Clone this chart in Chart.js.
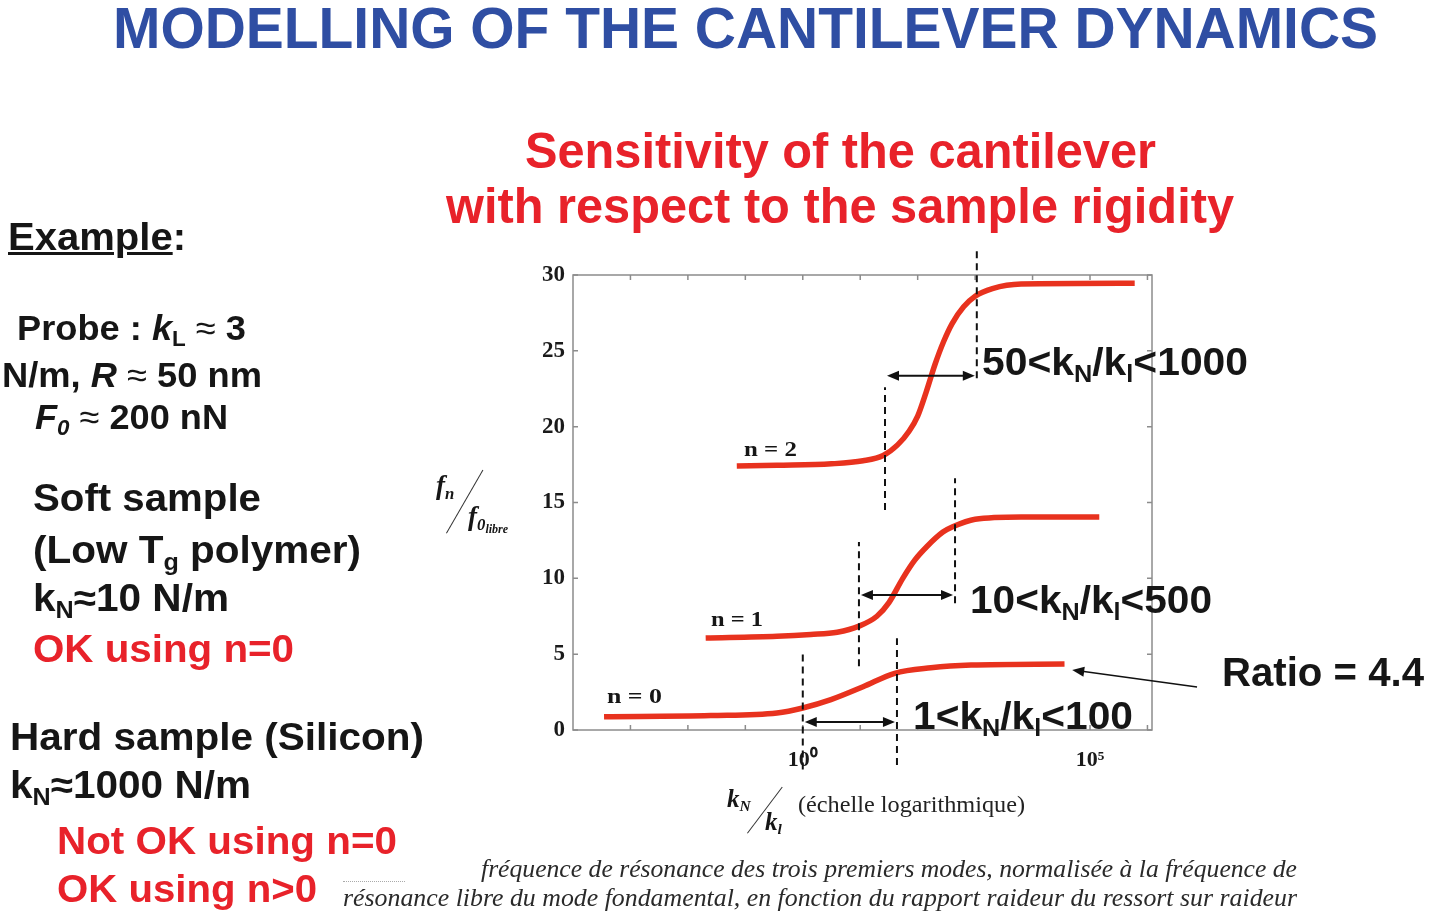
<!DOCTYPE html>
<html>
<head>
<meta charset="utf-8">
<title>Modelling of the cantilever dynamics</title>
<script src="https://cdn.jsdelivr.net/npm/chart.js@4.4.0/dist/chart.umd.min.js"></script>
<style>
  html, body { margin: 0; padding: 0; background: #fff; }
  #page { position: relative; width: 1432px; height: 921px; overflow: hidden; }
  #chartBox { position: absolute; left: 0; top: 0; width: 1432px; height: 921px; }
  .t { position: absolute; white-space: nowrap; line-height: 1; transform-origin: 0 50%;
       font-family: "Liberation Sans", Arial, sans-serif; font-weight: bold; color: #161616; }
  .narrow { font-family: "Liberation Sans Narrow", "Liberation Sans", Arial, sans-serif; }
  .red { color: #e8222a; }
  .blue { color: #2f4ea3; }
  .ser { font-family: "Liberation Serif", "Times New Roman", serif; }
  .t sub { font-size: 0.62em; vertical-align: -0.28em; line-height: 0; }
  .reg { font-weight: normal; }
  .slash { position: absolute; width: 0; border-left: 1.5px solid #333; transform-origin: 0 100%; }
</style>
</head>
<body>
<div id="page">
  <div id="chartBox"><canvas id="freqChart"></canvas></div>

  <div class="t blue" style="left:113px; top:0px; font-size:57px;" data-w="1265">MODELLING OF THE CANTILEVER DYNAMICS</div>

  <div class="t red narrow" style="left:525px; top:126px; font-size:50px;" data-w="631">Sensitivity of the cantilever</div>
  <div class="t red narrow" style="left:446px; top:181px; font-size:50px;" data-w="788">with respect to the sample rigidity</div>

  <!-- left column -->
  <div class="t" style="left:8px; top:218px; font-size:38px;" data-w="178"><u>Example</u>:</div>
  <div class="t" style="left:17px; top:310px; font-size:35px;" data-w="229">Probe : <i>k</i><sub>L</sub> <span class="reg">≈</span> 3</div>
  <div class="t" style="left:2px; top:357px; font-size:35px;" data-w="260">N/m, <i>R</i> <span class="reg">≈</span> 50 nm</div>
  <div class="t" style="left:35px; top:399px; font-size:35px;" data-w="193"><i>F<sub>0</sub></i> <span class="reg">≈</span> 200 nN</div>

  <div class="t" style="left:33px; top:479px; font-size:38px;" data-w="228">Soft sample</div>
  <div class="t" style="left:33px; top:531px; font-size:38px;" data-w="328">(Low T<sub>g</sub> polymer)</div>
  <div class="t" style="left:33px; top:579px; font-size:38px;" data-w="196">k<sub>N</sub>≈10 N/m</div>
  <div class="t red" style="left:33px; top:630px; font-size:38px;" data-w="261">OK using n=0</div>

  <div class="t" style="left:10px; top:718px; font-size:38px;" data-w="414">Hard sample (Silicon)</div>
  <div class="t" style="left:10px; top:766px; font-size:38px;" data-w="241">k<sub>N</sub>≈1000 N/m</div>
  <div class="t red" style="left:57px; top:822px; font-size:38px;" data-w="340">Not OK using n=0</div>
  <div class="t red" style="left:57px; top:870px; font-size:38px;" data-w="260">OK using n&gt;0</div>

  <!-- annotations in the plot -->
  <div class="t" style="left:982px; top:342px; font-size:39px;" data-w="266">50&lt;k<sub>N</sub>/k<sub>l</sub>&lt;1000</div>
  <div class="t" style="left:970px; top:580px; font-size:39px;" data-w="242">10&lt;k<sub>N</sub>/k<sub>l</sub>&lt;500</div>
  <div class="t" style="left:913px; top:696px; font-size:39px;" data-w="220">1&lt;k<sub>N</sub>/k<sub>l</sub>&lt;100</div>
  <div class="t" style="left:1222px; top:652px; font-size:40px;" data-w="202">Ratio = 4.4</div>

  <div class="t ser" style="left:607px; top:686px; font-size:21px;" data-w="55">n = 0</div>
  <div class="t ser" style="left:711px; top:609px; font-size:21px;" data-w="52">n = 1</div>
  <div class="t ser" style="left:744px; top:439px; font-size:21px;" data-w="53">n = 2</div>

  <!-- y axis title -->
  <div class="t ser" style="left:436px; top:472px; font-size:27px;"><i>f</i><sub><i>n</i></sub></div>
  <div class="slash" style="left:446px; top:460px; height:73px; transform:rotate(30deg);"></div>
  <div class="t ser" style="left:468px; top:503px; font-size:27px;"><i>f</i><sub><i>0</i><sub style="font-size:0.72em"><i>libre</i></sub></sub></div>

  <!-- x axis title -->
  <div class="t ser" style="left:727px; top:786px; font-size:25px;"><i>k</i><sub><i>N</i></sub></div>
  <div class="slash" style="left:747px; top:775px; height:58px; transform:rotate(37deg);"></div>
  <div class="t ser" style="left:765px; top:809px; font-size:25px;"><i>k</i><sub><i>l</i></sub></div>
  <div class="t ser reg" style="left:798px; top:793px; font-size:23px; color:#222;" data-w="227">(échelle logarithmique)</div>

  <!-- caption -->
  <div class="t ser reg" style="left:481px; top:856px; font-size:25px; color:#2a2a2a;" data-w="816"><i>fréquence de résonance des trois premiers modes, normalisée à la fréquence de</i></div>
  <div style="position:absolute; left:343px; top:881px; width:62px; border-top:1px dotted #aaa;"></div>
  <div class="t ser reg" style="left:343px; top:885px; font-size:25px; color:#2a2a2a;" data-w="954"><i>résonance libre du mode fondamental, en fonction du rapport raideur du ressort sur raideur</i></div>
</div>

<script>
// kN/kl ratio (log axis) and normalised frequency fn/f0 for each mode
const kRatio0 = [3.47e-4, 0.025, 0.355, 1, 3.09, 11.2, 39.8, 170, 851, 3.6e4];
const fNorm0  = [0.88, 0.95, 1.12, 1.45, 2.0, 2.85, 3.74, 4.1, 4.28, 4.35];

const kRatio1 = [0.0204, 0.355, 1.38, 3.98, 9.55, 19.5, 31.6, 55, 89, 145, 275, 407, 1000, 6300, 1.45e5];
const fNorm1  = [6.07, 6.18, 6.3, 6.45, 6.85, 7.5, 8.4, 10.0, 11.2, 12.1, 13.05, 13.4, 13.9, 14.05, 14.05];

const kRatio2 = [0.071, 0.355, 3.16, 11.2, 25.1, 44.7, 70.8, 100, 141, 200, 282, 398, 631, 1000, 2000, 6300, 6.0e5];
const fNorm2  = [17.4, 17.45, 17.55, 17.75, 18.1, 18.8, 19.7, 20.7, 22.3, 24.1, 25.6, 26.8, 27.9, 28.6, 29.1, 29.4, 29.45];

// tick labels
const yTicks = [0, 5, 10, 15, 20, 25, 30];
const xLabelled = [1, 1e5];
const xLabelText = ['10\u2070', '10\u2075'];

// dashed guides marking the sensitive window of each mode (ratio, from, to)
const guideX    = [1, 43.6, 9.5, 447, 27, 1070];
const guideFrom = [-2.6, -2.3, 4.2, 8.35, 14.5, 23.2];
const guideTo   = [5.15, 6.05, 12.4, 16.6, 22.6, 31.7];

// double arrows between the guides
const arrowFrom = [1, 9.5, 27];
const arrowTo   = [43.6, 447, 1070];
const arrowY    = [0.53, 8.9, 23.35];

// pointer for "Ratio = 4.4"
const ratioTail = [7.3e6, 2.83];
const ratioHead = [4.9e4, 3.95];

const RED = '#e8321e';

function fitText() {
    document.querySelectorAll('[data-w]').forEach(el => {
        el.style.transform = 'none';
        const w = el.getBoundingClientRect().width;
        if (w > 0) el.style.transform = 'scaleX(' + (el.dataset.w / w) + ')';
    });
}

function drawHead(ctx, x1, y1, x2, y2) {
    const a = Math.atan2(y2 - y1, x2 - x1);
    const len = 12, half = 5;
    ctx.beginPath();
    ctx.moveTo(x2, y2);
    ctx.lineTo(x2 - len * Math.cos(a) + half * Math.sin(a), y2 - len * Math.sin(a) - half * Math.cos(a));
    ctx.lineTo(x2 - len * Math.cos(a) - half * Math.sin(a), y2 - len * Math.sin(a) + half * Math.cos(a));
    ctx.closePath();
    ctx.fill();
}

const framePlugin = {
    id: 'frame',
    beforeDatasetsDraw(chart) {
        const { ctx, chartArea: a, scales: { x, y } } = chart;
        ctx.save();
        ctx.strokeStyle = '#8c8c8c';
        ctx.lineWidth = 1.5;
        ctx.strokeRect(a.left, a.top, a.right - a.left, a.bottom - a.top);
        ctx.beginPath();
        yTicks.forEach(v => {
            const py = y.getPixelForValue(v);
            ctx.moveTo(a.left, py); ctx.lineTo(a.left + 5, py);
            ctx.moveTo(a.right, py); ctx.lineTo(a.right - 5, py);
        });
        x.ticks.forEach(t => {
            const e = Math.log10(t.value);
            if (Math.abs(e - Math.round(e)) > 1e-6) return;
            const px = x.getPixelForValue(t.value);
            if (px <= a.left + 2 || px >= a.right - 2) return;
            ctx.moveTo(px, a.bottom); ctx.lineTo(px, a.bottom - 5);
            ctx.moveTo(px, a.top); ctx.lineTo(px, a.top + 5);
        });
        ctx.stroke();
        ctx.restore();
    }
};

const guidePlugin = {
    id: 'guides',
    afterDatasetsDraw(chart) {
        const { ctx, scales: { x, y } } = chart;
        ctx.save();
        ctx.strokeStyle = '#111';
        ctx.fillStyle = '#111';
        ctx.lineWidth = 2;
        ctx.setLineDash([7, 5]);
        guideX.forEach((g, i) => {
            const px = x.getPixelForValue(g);
            ctx.beginPath();
            ctx.moveTo(px, y.getPixelForValue(guideFrom[i]));
            ctx.lineTo(px, y.getPixelForValue(guideTo[i]));
            ctx.stroke();
        });
        ctx.setLineDash([]);
        arrowFrom.forEach((f, i) => {
            const x1 = x.getPixelForValue(f) + 2, x2 = x.getPixelForValue(arrowTo[i]) - 2;
            const py = y.getPixelForValue(arrowY[i]);
            ctx.beginPath();
            ctx.moveTo(x1 + 6, py); ctx.lineTo(x2 - 6, py);
            ctx.stroke();
            drawHead(ctx, x2, py, x1, py);
            drawHead(ctx, x1, py, x2, py);
        });
        const tx = x.getPixelForValue(ratioTail[0]), ty = y.getPixelForValue(ratioTail[1]);
        const hx = x.getPixelForValue(ratioHead[0]), hy = y.getPixelForValue(ratioHead[1]);
        ctx.lineWidth = 1.5;
        ctx.beginPath();
        ctx.moveTo(tx, ty); ctx.lineTo(hx + 8, hy + 1);
        ctx.stroke();
        drawHead(ctx, tx, ty, hx, hy);
        ctx.restore();
    }
};

function series(xs, ys) {
    return xs.map((k, i) => ({ x: k, y: ys[i] }));
}

function makeSet(label, xs, ys) {
    return {
        label: label,
        data: series(xs, ys),
        borderColor: RED,
        borderWidth: 5.5,
        pointRadius: 0,
        cubicInterpolationMode: 'monotone',
        borderCapStyle: 'butt',
        fill: false
    };
}

const ctx = document.getElementById('freqChart').getContext('2d');
new Chart(ctx, {
    type: 'line',
    data: {
        datasets: [
            makeSet('n = 0', kRatio0, fNorm0),
            makeSet('n = 1', kRatio1, fNorm1),
            makeSet('n = 2', kRatio2, fNorm2)
        ]
    },
    options: {
        responsive: true,
        maintainAspectRatio: false,
        animation: false,
        layout: { padding: { left: 513, right: 280, top: 275, bottom: 151 } },
        plugins: { legend: { display: false }, tooltip: { enabled: false } },
        scales: {
            x: {
                type: 'logarithmic',
                min: 1e-4,
                max: 1.2e6,
                afterFit: s => { s.height = 40; },
                grid: { display: false, drawTicks: false },
                border: { display: false },
                ticks: {
                    autoSkip: false,
                    maxRotation: 0,
                    padding: 17,
                    color: '#1a1a1a',
                    font: { family: 'Liberation Serif', weight: 'bold', size: 22 },
                    callback: function(v) {
                        const i = xLabelled.findIndex(t => Math.abs(Math.log10(t) - Math.log10(v)) < 1e-6);
                        return i >= 0 ? xLabelText[i] : '';
                    }
                }
            },
            y: {
                min: 0,
                max: 30,
                afterFit: s => { s.width = 60; },
                grid: { display: false, drawTicks: false },
                border: { display: false },
                afterBuildTicks: s => { s.ticks = yTicks.map(v => ({ value: v })); },
                ticks: {
                    padding: 8,
                    color: '#1a1a1a',
                    font: { family: 'Liberation Serif', weight: 'bold', size: 23 }
                }
            }
        }
    },
    plugins: [framePlugin, guidePlugin]
});

fitText();
if (document.fonts) document.fonts.ready.then(fitText);
</script>
</body>
</html>
